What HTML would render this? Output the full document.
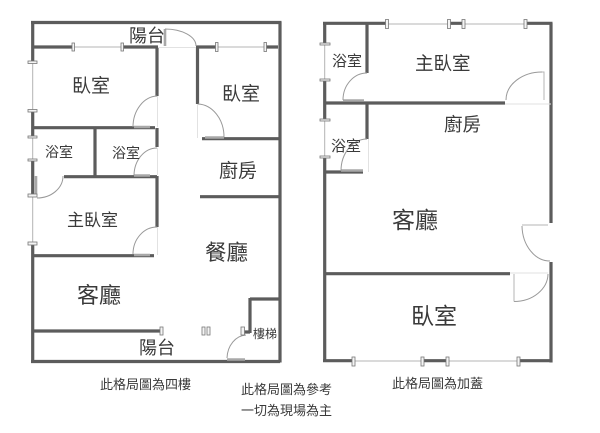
<!DOCTYPE html>
<html><head><meta charset="utf-8"><style>
html,body{margin:0;padding:0;background:#fff;width:600px;height:433px;overflow:hidden}
svg{display:block}
text{font-family:"Liberation Sans","Noto Sans CJK TC",sans-serif;fill:#3a3a3a;font-weight:400}
.w{stroke:#5c5c5c;stroke-width:3.2;fill:none}
.t{stroke:#b4b4b4;stroke-width:1;fill:none}
.p{stroke:#e2e2e2;stroke-width:1;fill:none}
.a{stroke:#999;stroke-width:1;fill:none}
.k{fill:#f4f4f4;stroke:#777;stroke-width:.8}
.l{stroke:#a8a8a8;stroke-width:2.6;fill:none}
</style></head><body>
<svg width="600" height="433" viewBox="0 0 600 433" xmlns="http://www.w3.org/2000/svg">
<g style="filter:blur(.35px)">
<!-- left plan walls -->
<path class="w" d="M31 22.500H281.500M280 22V362.500M31 361.500H280
M32.700 22V62M32.700 110V137M32.700 159V195M32.700 243V362
M33 47H73M122 47H158M196 47H216M265 47H278
M157 47V96M33 127.700H155M157 128V147M157 176V227
M64 176.700H157M95 128V176
M197.500 47V104M202 138.700H280M200 196.700H280
M33 255.700H154M33 331H160M250 298V333M250 299H280M250 332H244"/>
<path class="t" d="M32.700 62V110M32.700 137V159M32.700 195V243M73 47H122M216 47H265"/>
<path class="p" d="M158 47.500H196M197.500 104V138M157.500 96V127M157.500 148V175M157.500 227V255"/>
<path class="l" d="M36 176V195M134 127H150M134 255H150M134 175.500H150M205 137.500H224M227 359.500H245M165 29V46"/>
<path class="a" d="M157 96A25 31 0 0 0 133 127M157 148A23 28 0 0 0 134 175M63 176A26 22 0 0 1 37 198M198 104A27 33 0 0 1 224 137M157 227A24 27 0 0 0 133 254M165 29A31 17 0 0 1 196 46M246 335A20 24 0 0 0 227 358"/>
<rect class="k" x="28" y="61" width="9" height="2.500"/><rect class="k" x="28" y="109.500" width="9" height="2.500"/>
<rect class="k" x="28" y="136" width="9" height="2"/><rect class="k" x="28" y="159" width="9" height="2"/>
<rect class="k" x="28" y="194" width="9" height="3"/><rect class="k" x="28" y="242" width="9" height="3"/>
<rect class="k" x="72" y="43" width="2.500" height="8"/><rect class="k" x="121" y="43" width="2.500" height="8"/>
<rect class="k" x="215.500" y="42.500" width="2.500" height="9"/><rect class="k" x="264" y="42.500" width="2.500" height="9"/>
<rect class="k" x="160" y="327" width="3" height="8"/><rect class="k" x="202" y="327" width="3" height="8"/><rect class="k" x="207" y="327" width="3" height="8"/><rect class="k" x="241" y="327" width="3.500" height="8"/>
<!-- right plan walls -->
<path class="w" d="M323 23.300H387M449 23.300H463M525 23.300H552.500M551 23V223M551 262V362.500M323 360.700H353M422 360.700H447M518 360.700H551
M324.700 23V44M324.700 80V120M324.700 157V361
M367 23V73M325 103H505M367 103V139M325 172H363M325 273.700H510"/>
<path class="t" d="M324.700 44V80M324.700 120V157M387 24H449M463 24H525M353 361H422M447 361H518"/>
<path class="p" d="M505 104H551M368.500 139V172M510 273H548"/>
<path class="l" d="M343 100.500H364M341 170.500H363"/>
<path class="a" d="M367 73A24 27 0 0 0 343 100M367 139A26 32 0 0 0 341 171M506 100A36 28 0 0 1 542 72M514 301.500A34 28 0 0 0 548 274M522 226A28 36 0 0 0 550 261"/>
<path class="t" stroke-width="1.400" d="M542 72H544V100M514 274V301.500M522 225H548"/>
<rect class="k" x="320" y="43" width="10" height="2"/><rect class="k" x="320" y="79" width="10" height="2"/><rect class="k" x="320" y="119" width="10" height="2"/><rect class="k" x="320" y="156" width="10" height="2"/>
<rect class="k" x="385.500" y="19.500" width="3" height="9"/><rect class="k" x="447.500" y="19.500" width="3" height="9"/><rect class="k" x="462" y="19.500" width="3" height="9"/><rect class="k" x="524" y="19.500" width="3" height="9"/>
<rect class="k" x="352" y="357" width="3" height="9"/><rect class="k" x="421" y="357" width="3" height="9"/><rect class="k" x="446" y="357" width="3" height="9"/><rect class="k" x="517" y="357" width="3" height="9"/>
<!-- labels -->
<text x="129" y="42" font-size="18">陽台</text>
<text x="72" y="92" font-size="19">臥室</text>
<text x="222" y="100" font-size="19">臥室</text>
<text x="45" y="157" font-size="14">浴室</text>
<text x="112" y="158" font-size="14">浴室</text>
<text x="219" y="177" font-size="19">廚房</text>
<text x="67" y="226" font-size="17">主臥室</text>
<text x="205" y="260" font-size="21.500">餐廳</text>
<text x="77" y="303" font-size="22">客廳</text>
<text x="139" y="354" font-size="18">陽台</text>
<text x="253" y="338" font-size="12">樓梯</text>
<text x="332" y="66" font-size="15">浴室</text>
<text x="415" y="70" font-size="18.500">主臥室</text>
<text x="331" y="151" font-size="15">浴室</text>
<text x="444" y="131" font-size="18.500">廚房</text>
<text x="392" y="228" font-size="23">客廳</text>
<text x="411" y="324" font-size="23">臥室</text>
<text x="100" y="389" font-size="13">此格局圖為四樓</text>
<text x="241" y="394" font-size="13">此格局圖為參考</text>
<text x="241" y="415" font-size="13">一切為現場為主</text>
<text x="392" y="388" font-size="13">此格局圖為加蓋</text>
</g>
</svg>
</body></html>
